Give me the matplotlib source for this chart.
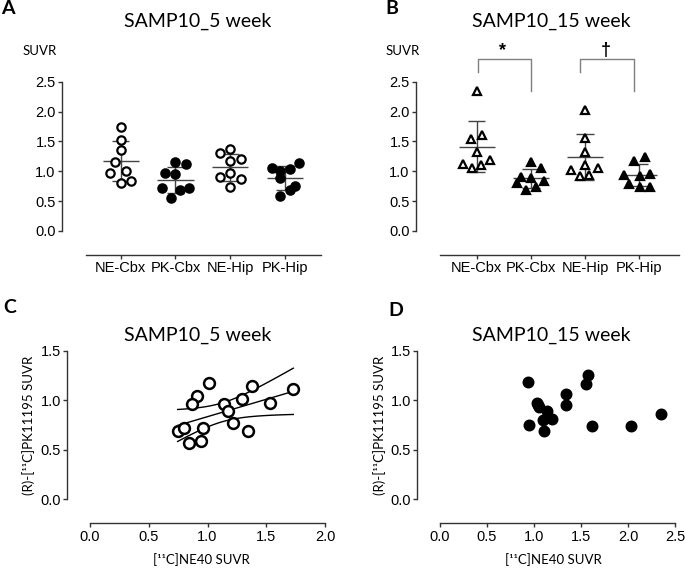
import numpy as np
import matplotlib
matplotlib.use('Agg')
import matplotlib.pyplot as plt

# group labels
groups = ['NE-Cbx', 'PK-Cbx', 'NE-Hip', 'PK-Hip']

# panel A, 5 week SUVR (values and horizontal jitter in category units)
wk5_ne_cbx = [1.75, 1.53, 1.35, 1.15, 0.98, 1.01, 0.80, 0.84]
wk5_ne_cbx_dx = [0, 0, 0, -0.10, -0.19, 0.10, 0, 0.195]
wk5_pk_cbx = [1.16, 1.12, 0.97, 0.95, 0.72, 0.69, 0.72, 0.56]
wk5_pk_cbx_dx = [0, 0.19, -0.195, 0, -0.255, 0.08, 0.245, -0.085]
wk5_ne_hip = [1.30, 1.38, 1.21, 1.17, 0.91, 0.97, 0.87, 0.74]
wk5_ne_hip_dx = [-0.195, 0, 0.195, 0, -0.195, 0, 0.195, 0]
wk5_pk_hip = [1.05, 1.01, 1.04, 1.14, 0.88, 0.76, 0.68, 0.58]
wk5_pk_hip_dx = [-0.245, -0.09, 0.085, 0.245, -0.1, 0.18, 0.09, -0.1]

# panel B, 15 week SUVR
wk15_ne_cbx = [2.34, 1.54, 1.61, 1.33, 1.12, 1.05, 1.10, 1.19]
wk15_ne_cbx_dx = [0, -0.10, 0.09, 0, -0.255, -0.09, 0.075, 0.245]
wk15_pk_cbx = [1.15, 1.05, 0.91, 0.88, 0.84, 0.80, 0.73, 0.68]
wk15_pk_cbx_dx = [0, 0.185, -0.19, 0, 0.245, -0.25, 0.09, -0.09]
wk15_ne_hip = [2.02, 1.56, 1.33, 1.11, 1.02, 1.05, 0.92, 0.93]
wk15_ne_hip_dx = [0, 0, 0, 0, -0.25, 0.245, -0.09, 0.08]
wk15_pk_hip = [1.17, 1.24, 0.94, 0.92, 0.96, 0.79, 0.73, 0.74]
wk15_pk_hip_dx = [-0.09, 0.1, -0.28, 0.01, 0.195, -0.18, 0.01, 0.195]

# significance brackets in B: (x left, x right, symbol)
brackets = [(0.02, 1.01, '*'), (1.91, 2.90, '\u2020')]

# panel C, NE40 vs PK11195 at 5 week
c_x = [1.015, 0.913, 0.871, 1.376, 1.73, 1.143, 1.296, 1.172,
       1.532, 0.746, 0.80, 0.964, 1.214, 1.348, 0.845, 0.945]
c_y = [1.171, 1.043, 0.962, 1.144, 1.113, 0.959, 1.009, 0.894,
       0.969, 0.689, 0.723, 0.716, 0.773, 0.692, 0.571, 0.588]

# panel D, 15 week
d_x = [0.933, 1.571, 1.553, 1.337, 1.337, 1.028, 1.056, 1.135,
       1.188, 1.099, 2.351, 0.947, 1.11, 1.617, 2.035, 1.045]
d_y = [1.184, 1.255, 1.161, 1.06, 0.952, 0.969, 0.929, 0.894,
       0.814, 0.80, 0.861, 0.747, 0.692, 0.743, 0.743, 0.95]

W, H = 685, 570
TXT = ['Lato', 'DejaVu Sans']
TICK = ['Liberation Sans', 'DejaVu Sans']
AX = '#333333'
BAR = '#444444'


def px(v):
    # pixels to points at dpi 100
    return v * 72 / 100


def box(l, r, t, b):
    return [l / W, 1 - b / H, (r - l) / W, (b - t) / H]


def style_axes(ax, left_out, bottom_out):
    for s in ['top', 'right']:
        ax.spines[s].set_visible(False)
    ax.spines['left'].set_position(('outward', px(left_out)))
    ax.spines['bottom'].set_position(('outward', px(bottom_out)))
    for s in ['left', 'bottom']:
        ax.spines[s].set_color(AX)
        ax.spines[s].set_linewidth(1.0)
    ax.tick_params(direction='out', length=3, width=1.0, color=AX, pad=1.5,
                   labelsize=10.5, labelcolor='black')
    for lab in ax.get_xticklabels() + ax.get_yticklabels():
        lab.set_family(TICK)


def draw_group(ax, i, vals, dx, marker, filled, ms):
    vals = np.array(vals)
    m = vals.mean()
    sd = vals.std(ddof=1)
    ax.hlines(m, i - 0.33, i + 0.33, color=BAR, lw=1.0, zorder=2)
    ax.vlines(i, m - sd, m + sd, color=BAR, lw=1.0, zorder=2)
    ax.hlines([m - sd, m + sd], i - 0.16, i + 0.16, color=BAR, lw=1.0, zorder=2)
    ax.plot(i + np.array(dx), vals, ls='none', marker=marker, ms=ms,
            mfc='black' if filled else 'white', mec='black', mew=1.6,
            zorder=3, clip_on=False)


def dot_panel(rect, xl, sets, marker, ms):
    ax = fig.add_axes(rect)
    for i, (vals, dx, filled) in enumerate(sets):
        draw_group(ax, i, vals, dx, marker, filled, ms)
    ax.set_xlim(*xl)
    ax.set_ylim(0, 3.2)
    ax.set_yticks([0, 0.5, 1.0, 1.5, 2.0, 2.5])
    ax.set_yticklabels(['0.0', '0.5', '1.0', '1.5', '2.0', '2.5'])
    ax.spines['left'].set_bounds(0, 2.5)
    ax.set_xticks(range(len(groups)))
    ax.set_xticklabels(groups)
    style_axes(ax, 24, 24)
    return ax


def scatter_panel(rect, xmax, xs, ys, filled, ms):
    ax = fig.add_axes(rect)
    ax.plot(xs, ys, ls='none', marker='o', ms=ms,
            mfc='black' if filled else 'white', mec='black', mew=1.8,
            zorder=3, clip_on=False)
    ax.set_xlim(0, xmax)
    ax.set_ylim(0, 1.5)
    ax.set_xticks(np.arange(0, xmax + 0.01, 0.5))
    ax.set_xticklabels(['%.1f' % v for v in np.arange(0, xmax + 0.01, 0.5)])
    ax.set_yticks([0, 0.5, 1.0, 1.5])
    ax.set_yticklabels(['0.0', '0.5', '1.0', '1.5'])
    style_axes(ax, 23, 24)
    return ax


fig = plt.figure(figsize=(W / 100, H / 100), dpi=100)

# A
axA = dot_panel(box(86, 320.7, 40, 231), (-0.633, 3.65),
                [(wk5_ne_cbx, wk5_ne_cbx_dx, False),
                 (wk5_pk_cbx, wk5_pk_cbx_dx, True),
                 (wk5_ne_hip, wk5_ne_hip_dx, False),
                 (wk5_pk_hip, wk5_pk_hip_dx, True)], 'o', 6.0)

# B
axB = dot_panel(box(440, 679.3, 40, 231), (-0.677, 3.74),
                [(wk15_ne_cbx, wk15_ne_cbx_dx, False),
                 (wk15_pk_cbx, wk15_pk_cbx_dx, True),
                 (wk15_ne_hip, wk15_ne_hip_dx, False),
                 (wk15_pk_hip, wk15_pk_hip_dx, True)], '^', 6.3)
for xa, xb, sym in brackets:
    axB.plot([xa, xa, xb, xb], [2.67, 2.88, 2.88, 2.34], color='#7f7f7f',
             lw=1.0, clip_on=False)
    axB.text((xa + xb) / 2 - 0.03, 3.02, sym, ha='center', va='center',
             fontsize=13, family=TICK, fontweight='bold')

# C with regression line and 95% confidence band
axC = scatter_panel(box(90, 325, 350.7, 499.3), 2.0, c_x, c_y, False, 7.8)
cx = np.array(c_x)
cy = np.array(c_y)
n = len(cx)
slope, icept = np.polyfit(cx, cy, 1)
resid = cy - (slope * cx + icept)
s_err = np.sqrt(np.sum(resid ** 2) / (n - 2))
t_val = 2.1448
xx = np.linspace(cx.min(), cx.max(), 100)
yy = slope * xx + icept
half = t_val * s_err * np.sqrt(1 / n + (xx - cx.mean()) ** 2 / np.sum((cx - cx.mean()) ** 2))
axC.plot(xx, yy, color='black', lw=1.0, zorder=2)
axC.plot(xx, yy + half, color='black', lw=1.0, zorder=2)
axC.plot(xx, yy - half, color='black', lw=1.0, zorder=2)

# D
axD = scatter_panel(box(440, 675, 350.7, 499.3), 2.5, d_x, d_y, True, 6.8)

# titles, labels, panel letters
for x, y, s in [(198, 21, 'SAMP10_5 week'), (551, 21, 'SAMP10_15 week'),
                (198, 335, 'SAMP10_5 week'), (551, 335, 'SAMP10_15 week')]:
    fig.text(x / W, 1 - y / H, s, ha='center', va='center', fontsize=14, family=TXT)

for x, s in [(40, 'SUVR'), (403, 'SUVR')]:
    fig.text(x / W, 1 - 51 / H, s, ha='center', va='center', fontsize=9.5, family=TXT)

for x in [28.5, 380]:
    fig.text(x / W, 1 - 425 / H, '(R)-[\u00b9\u00b9C]PK11195 SUVR', rotation=90,
             ha='center', va='center', fontsize=9.5, family=TXT)
for x in [201, 553]:
    fig.text(x / W, 1 - 560 / H, '[\u00b9\u00b9C]NE40 SUVR', ha='center', va='center',
             fontsize=9.5, family=TXT)

for x, y, s in [(1, 0, 'A'), (385, 0, 'B'), (3, 299, 'C'), (388, 302, 'D')]:
    fig.text(x / W, 1 - y / H, s, ha='left', va='top', fontsize=14,
             fontweight='bold', family=TXT)

fig.savefig('out.png', dpi=100)
